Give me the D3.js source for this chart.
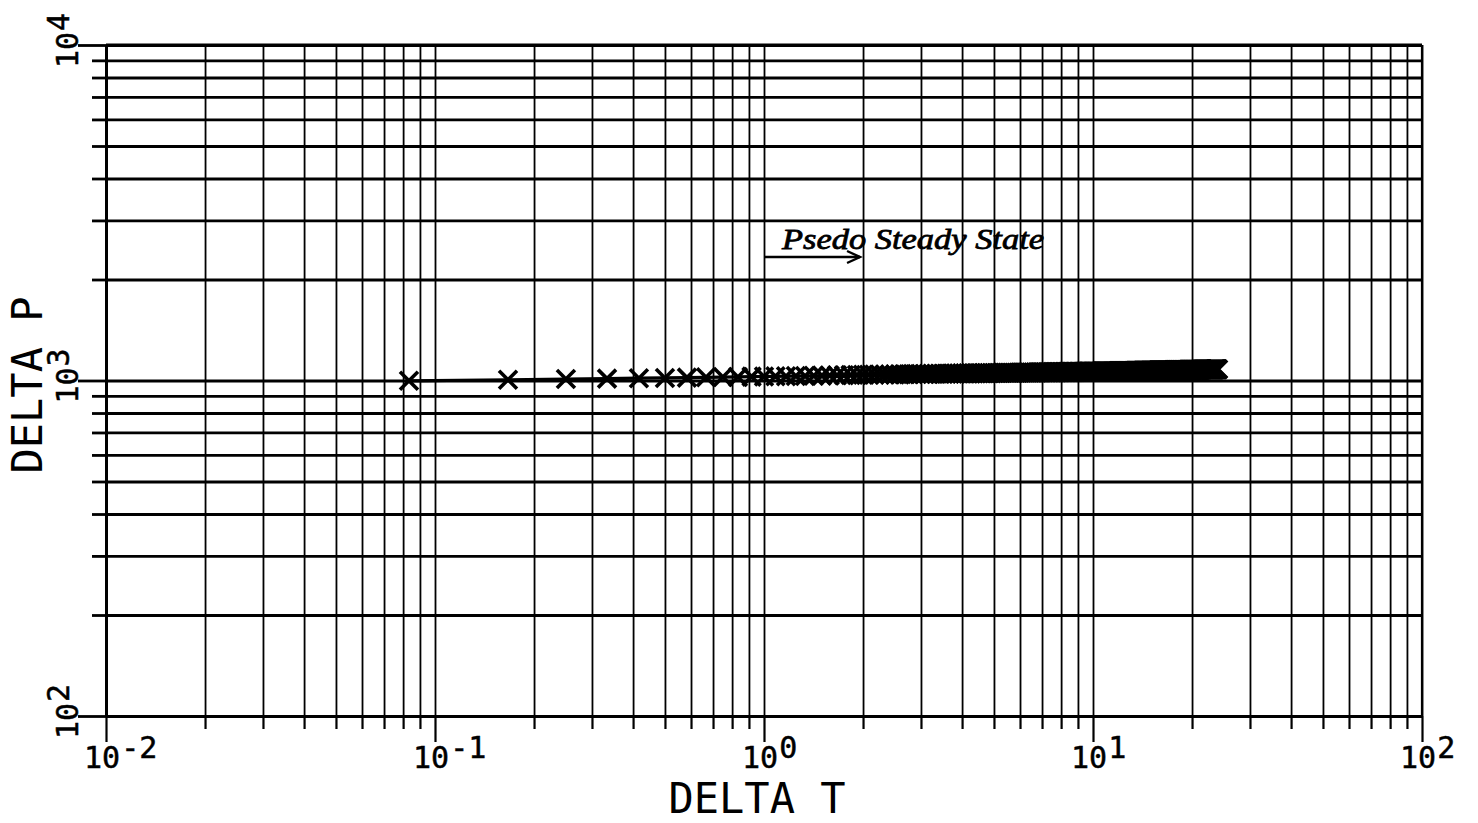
<!DOCTYPE html>
<html>
<head>
<meta charset="utf-8">
<script src="https://cdn.jsdelivr.net/npm/d3@7/dist/d3.min.js"></script>
<style>
  html, body { margin: 0; padding: 0; background: #fff; }
  svg { display: block; }
  .lbl { font-family: "DejaVu Sans Mono", monospace; fill: #000; }
</style>
</head>
<body>
<svg id="chart" width="1478" height="823"></svg>
<script>
// Elapsed time since the rate change, minutes (one reading every 5 minutes over 24 h)
const minutes = [
  5, 10, 15, 20, 25, 30, 35, 40, 45, 50, 55, 60,
  65, 70, 75, 80, 85, 90, 95, 100, 105, 110, 115, 120,
  125, 130, 135, 140, 145, 150, 155, 160, 165, 170, 175, 180,
  185, 190, 195, 200, 205, 210, 215, 220, 225, 230, 235, 240,
  245, 250, 255, 260, 265, 270, 275, 280, 285, 290, 295, 300,
  305, 310, 315, 320, 325, 330, 335, 340, 345, 350, 355, 360,
  365, 370, 375, 380, 385, 390, 395, 400, 405, 410, 415, 420,
  425, 430, 435, 440, 445, 450, 455, 460, 465, 470, 475, 480,
  485, 490, 495, 500, 505, 510, 515, 520, 525, 530, 535, 540,
  545, 550, 555, 560, 565, 570, 575, 580, 585, 590, 595, 600,
  605, 610, 615, 620, 625, 630, 635, 640, 645, 650, 655, 660,
  665, 670, 675, 680, 685, 690, 695, 700, 705, 710, 715, 720,
  725, 730, 735, 740, 745, 750, 755, 760, 765, 770, 775, 780,
  785, 790, 795, 800, 805, 810, 815, 820, 825, 830, 835, 840,
  845, 850, 855, 860, 865, 870, 875, 880, 885, 890, 895, 900,
  905, 910, 915, 920, 925, 930, 935, 940, 945, 950, 955, 960,
  965, 970, 975, 980, 985, 990, 995, 1000, 1005, 1010, 1015, 1020,
  1025, 1030, 1035, 1040, 1045, 1050, 1055, 1060, 1065, 1070, 1075, 1080,
  1085, 1090, 1095, 1100, 1105, 1110, 1115, 1120, 1125, 1130, 1135, 1140,
  1145, 1150, 1155, 1160, 1165, 1170, 1175, 1180, 1185, 1190, 1195, 1200,
  1205, 1210, 1215, 1220, 1225, 1230, 1235, 1240, 1245, 1250, 1255, 1260,
  1265, 1270, 1275, 1280, 1285, 1290, 1295, 1300, 1305, 1310, 1315, 1320,
  1325, 1330, 1335, 1340, 1345, 1350, 1355, 1360, 1365, 1370, 1375, 1380,
  1385, 1390, 1395, 1400, 1405, 1410, 1415, 1420, 1425, 1430, 1435, 1440
];

// Pressure drop at each reading
const deltaP = [
  998, 1005, 1010, 1013, 1016, 1018, 1020, 1022, 1024, 1025, 1027, 1028,
  1029, 1030, 1031, 1032, 1033, 1034, 1035, 1036, 1037, 1038, 1039, 1040,
  1040, 1041, 1041, 1042, 1042, 1043, 1043, 1044, 1044, 1045, 1045, 1046,
  1046, 1046, 1047, 1047, 1047, 1048, 1048, 1048, 1049, 1049, 1049, 1050,
  1050, 1050, 1050, 1051, 1051, 1051, 1051, 1052, 1052, 1052, 1052, 1053,
  1053, 1053, 1053, 1054, 1054, 1054, 1054, 1055, 1055, 1055, 1055, 1056,
  1056, 1056, 1056, 1056, 1057, 1057, 1057, 1057, 1057, 1058, 1058, 1058,
  1058, 1058, 1058, 1059, 1059, 1059, 1059, 1059, 1059, 1060, 1060, 1060,
  1060, 1060, 1060, 1060, 1061, 1061, 1061, 1061, 1061, 1061, 1062, 1062,
  1062, 1062, 1062, 1062, 1062, 1063, 1063, 1063, 1063, 1063, 1063, 1063,
  1064, 1064, 1064, 1064, 1064, 1064, 1064, 1065, 1065, 1065, 1065, 1065,
  1065, 1065, 1066, 1066, 1066, 1066, 1066, 1066, 1066, 1066, 1067, 1067,
  1067, 1067, 1067, 1067, 1067, 1067, 1067, 1068, 1068, 1068, 1068, 1068,
  1068, 1068, 1068, 1068, 1069, 1069, 1069, 1069, 1069, 1069, 1069, 1069,
  1069, 1070, 1070, 1070, 1070, 1070, 1070, 1070, 1070, 1070, 1071, 1071,
  1071, 1071, 1071, 1071, 1071, 1071, 1071, 1071, 1072, 1072, 1072, 1072,
  1072, 1072, 1072, 1072, 1072, 1072, 1072, 1073, 1073, 1073, 1073, 1073,
  1073, 1073, 1073, 1073, 1073, 1073, 1074, 1074, 1074, 1074, 1074, 1074,
  1074, 1074, 1074, 1074, 1074, 1075, 1075, 1075, 1075, 1075, 1075, 1075,
  1075, 1075, 1075, 1075, 1076, 1076, 1076, 1076, 1076, 1076, 1076, 1076,
  1076, 1076, 1076, 1077, 1077, 1077, 1077, 1077, 1077, 1077, 1077, 1077,
  1077, 1077, 1077, 1078, 1078, 1078, 1078, 1078, 1078, 1078, 1078, 1078,
  1078, 1078, 1078, 1078, 1079, 1079, 1079, 1079, 1079, 1079, 1079, 1079,
  1079, 1079, 1079, 1079, 1079, 1080, 1080, 1080, 1080, 1080, 1080, 1080
];

// Decade tick labels (exponents of ten)
const xDecades = ["-2", "-1", "0", "1", "2"];
const yDecades = ["2", "3", "4"];

const xTitle = "DELTA T";
const yTitle = "DELTA P";
const noteText = "Psedo Steady State";
const noteStartT = 1;   // arrow starts at 1 h
const noteEndT = 2;     // and points toward 2 h
const noteP = 2500;

const svg = d3.select("#chart");
const plotL = 106, plotR = 1422, plotT = 45, plotB = 716;

const x = d3.scaleLog().domain([1e-2, 1e2]).range([plotL, plotR]);
const y = d3.scaleLog().domain([1e2, 1e4]).range([plotB, plotT]);

// 1..9 x 10^d for every decade in a domain
function logTicks(d0, d1) {
  const out = [];
  for (let d = d0; d < d1; d++) for (let m = 1; m <= 9; m++) out.push(m * Math.pow(10, d));
  out.push(Math.pow(10, d1));
  return out;
}
const xTicks = logTicks(-2, 2);
const yTicks = logTicks(2, 4);
const isDecade = v => Math.abs(Math.log10(v) - Math.round(Math.log10(v))) < 1e-9;

// Grid: vertical lines
svg.append("g")
  .attr("transform", `translate(0,${plotT})`)
  .call(d3.axisBottom(x).tickValues(xTicks).tickSize(plotB - plotT).tickFormat(""))
  .call(g => g.select(".domain").remove())
  .call(g => g.selectAll("line").attr("stroke", "#000").attr("stroke-width", 1.8));

// Grid: horizontal lines
svg.append("g")
  .attr("transform", `translate(${plotL},0)`)
  .call(d3.axisRight(y).tickValues(yTicks).tickSize(plotR - plotL).tickFormat(""))
  .call(g => g.select(".domain").remove())
  .call(g => g.selectAll("line").attr("stroke", "#000").attr("stroke-width", 2.8));

// Outer ticks on the bottom axis
svg.append("g")
  .attr("transform", `translate(0,${plotB})`)
  .call(d3.axisBottom(x).tickValues(xTicks).tickSizeOuter(0).tickFormat(""))
  .call(g => g.select(".domain").attr("stroke", "#000").attr("stroke-width", 3))
  .call(g => g.selectAll(".tick line")
    .attr("stroke", "#000").attr("stroke-width", 2.2)
    .attr("y2", d => isDecade(d) ? 26 : 13));

// Outer ticks on the left axis
svg.append("g")
  .attr("transform", `translate(${plotL},0)`)
  .call(d3.axisLeft(y).tickValues(yTicks).tickSizeOuter(0).tickFormat(""))
  .call(g => g.select(".domain").attr("stroke", "#000").attr("stroke-width", 3))
  .call(g => g.selectAll(".tick line")
    .attr("stroke", "#000").attr("stroke-width", 2.8)
    .attr("x2", d => isDecade(d) ? -28 : -14));

// Frame top and right
svg.append("line").attr("x1", plotL).attr("x2", plotR).attr("y1", plotT).attr("y2", plotT)
  .attr("stroke", "#000").attr("stroke-width", 3);
svg.append("line").attr("x1", plotR).attr("x2", plotR).attr("y1", plotT).attr("y2", plotB)
  .attr("stroke", "#000").attr("stroke-width", 2.2);

// X decade labels: 10 with raised exponent
const tickFont = 30;
const xl = svg.append("g").attr("class", "lbl").style("font-size", tickFont + "px")
  .attr("stroke", "#000").attr("stroke-width", 0.5);
xDecades.forEach(e => {
  const t = xl.append("text")
    .attr("x", x(Math.pow(10, +e)) - 22)
    .attr("y", 768);
  t.append("tspan").text("10");
  t.append("tspan").attr("dx", 1).attr("dy", -10).text(e);
});

// Y decade labels, rotated
const yl = svg.append("g").attr("class", "lbl").style("font-size", tickFont + "px")
  .attr("stroke", "#000").attr("stroke-width", 0.5);
yDecades.forEach(e => {
  const t = yl.append("text")
    .attr("transform", `translate(78,${y(Math.pow(10, +e)) + 23}) rotate(-90)`);
  t.append("tspan").text("10");
  t.append("tspan").attr("dx", 1).attr("dy", -9).text(e);
});

// Axis titles
svg.append("text").attr("class", "lbl")
  .attr("x", 757).attr("y", 813)
  .attr("text-anchor", "middle")
  .style("font-size", "42px")
  .text(xTitle);
svg.append("text").attr("class", "lbl")
  .attr("transform", `translate(42,385) rotate(-90)`)
  .attr("text-anchor", "middle")
  .style("font-size", "42px")
  .text(yTitle);

// Data series
const pts = minutes.map((m, i) => ({ t: m / 60, p: deltaP[i] }));

svg.append("path")
  .datum(pts)
  .attr("fill", "none")
  .attr("stroke", "#000")
  .attr("stroke-width", 3.2)
  .attr("d", d3.line().x(d => x(d.t)).y(d => y(d.p)));

const s = 9;
svg.append("g").selectAll("path")
  .data(pts)
  .join("path")
  .attr("transform", d => `translate(${x(d.t)},${y(d.p)})`)
  .attr("d", `M${-s},${-s}L${s},${s}M${-s},${s}L${s},${-s}`)
  .attr("stroke", "#000")
  .attr("stroke-width", 3.6)
  .attr("fill", "none");

// Hand-written note with arrow
const ay = y(noteP) + 10;
svg.append("line")
  .attr("x1", x(noteStartT)).attr("x2", x(noteEndT) - 3)
  .attr("y1", ay).attr("y2", ay)
  .attr("stroke", "#000").attr("stroke-width", 2.4);
svg.append("path")
  .attr("d", `M${x(noteEndT) - 16},${ay - 6}L${x(noteEndT) - 3},${ay}L${x(noteEndT) - 16},${ay + 6}`)
  .attr("fill", "none").attr("stroke", "#000").attr("stroke-width", 2.4);
svg.append("text")
  .attr("x", x(noteStartT) + 18)
  .attr("y", y(noteP) + 2)
  .attr("textLength", 262)
  .attr("lengthAdjust", "spacingAndGlyphs")
  .style("font-family", "'Liberation Serif', serif")
  .style("font-style", "italic")
  .style("font-size", "30px")
  .attr("fill", "#000")
  .attr("stroke", "#000")
  .attr("stroke-width", 0.8)
  .text(noteText);
</script>
</body>
</html>
